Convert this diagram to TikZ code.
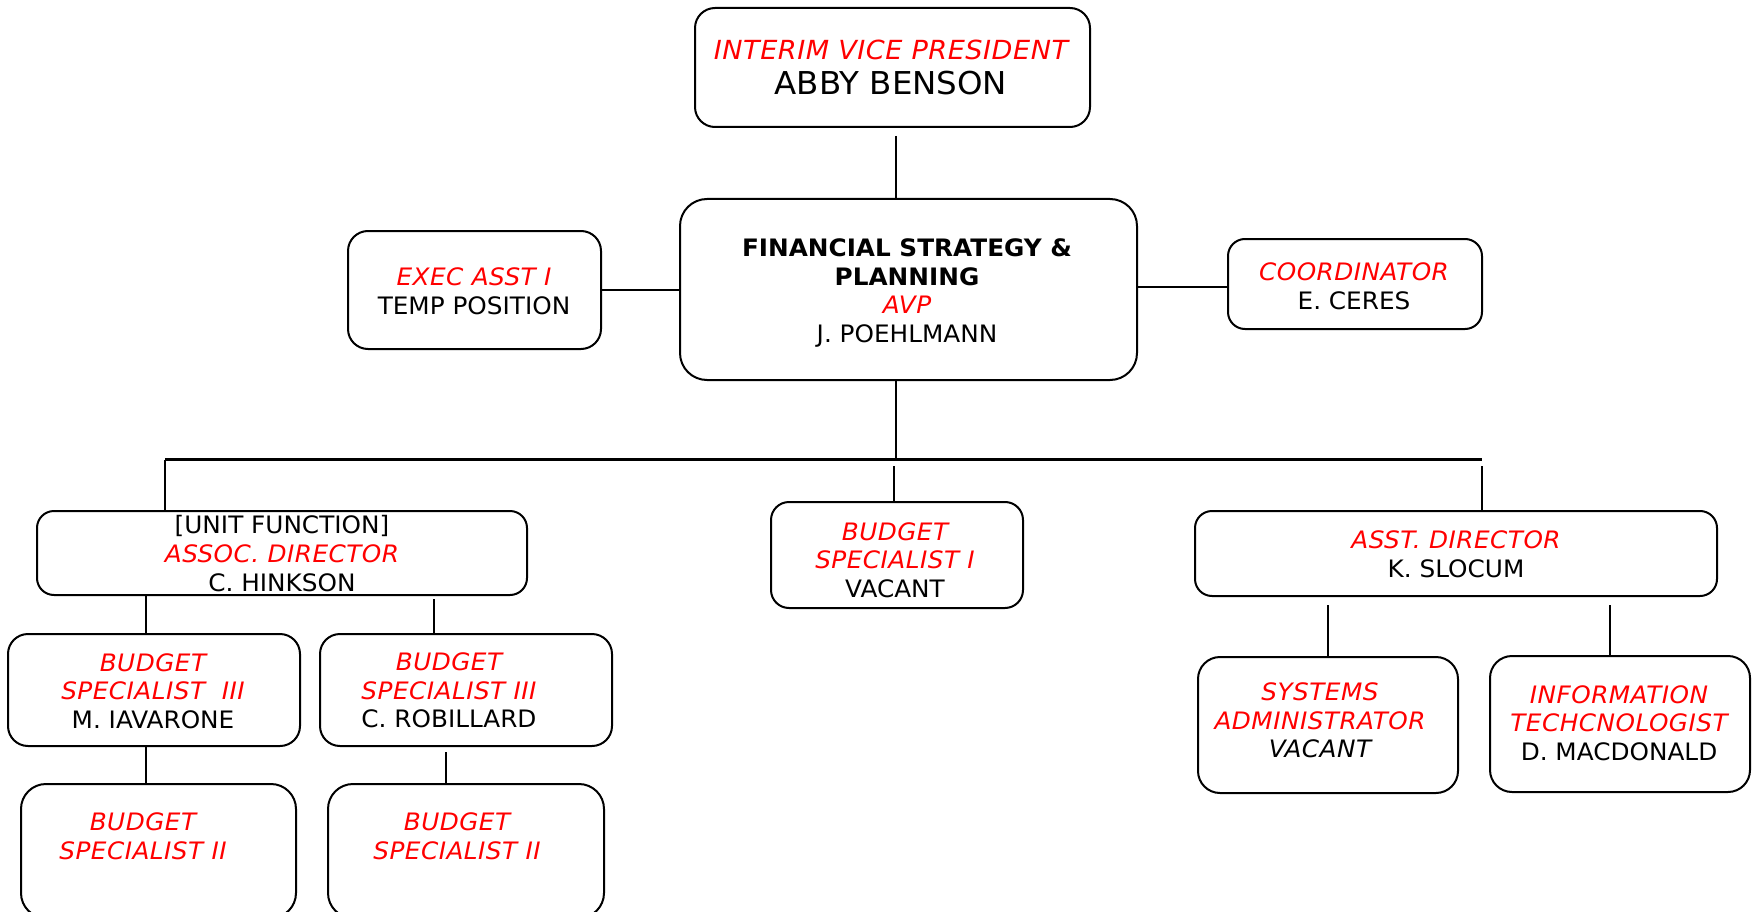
\documentclass[tikz,border=0pt]{standalone}
\usepackage{fontspec}
\setmainfont{DejaVu Sans}[FakeStretch=1.03,ItalicFeatures={LetterSpace=2.0}]
\usetikzlibrary{calc}
\definecolor{tred}{RGB}{255,0,0}
\newcommand{\rt}[1]{{\color{tred}\itshape #1}}
\begin{document}
\begin{tikzpicture}[x=1pt,y=-1pt,
  box/.style={draw=black,line width=2pt,rounded corners=#1,fill=white,inner sep=0pt},
  box/.default=18pt,
  lbl/.style={align=center,inner sep=0pt,font=\fontsize{24}{28.6}\selectfont},
  conn/.style={line width=2.5pt}]
\useasboundingbox (0,0) rectangle (1753,912);
\clip (0,0) rectangle (1753,912);
\fill[white] (0,0) rectangle (1753,912);

% boxes
\node[box=20pt,minimum width=395pt,minimum height=119pt] (top) at (892.5,67.5) {};
\node[box=27pt,minimum width=457pt,minimum height=181pt] (central) at (908.5,289.5) {};
\node[box=20pt,minimum width=253pt,minimum height=118pt] (exec) at (474.5,290) {};
\node[box=17pt,minimum width=254pt,minimum height=90pt] (coord) at (1355,284) {};
\node[box=17pt,minimum width=490pt,minimum height=84pt] (hink) at (282,553) {};
\node[box=18pt,minimum width=252pt,minimum height=106pt] (bs1) at (897,555) {};
\node[box=17pt,minimum width=522pt,minimum height=85pt] (slocum) at (1456,553.5) {};
\node[box=20pt,minimum width=292pt,minimum height=112pt] (iav) at (154,690) {};
\node[box=20pt,minimum width=292pt,minimum height=112pt] (rob) at (466,690) {};
\node[box=25pt,minimum width=275pt,minimum height=134pt] (bs2a) at (158.5,851) {};
\node[box=25pt,minimum width=276pt,minimum height=134pt] (bs2b) at (466,851) {};
\node[box=22pt,minimum width=260pt,minimum height=136pt] (sys) at (1328,725) {};
\node[box=22pt,minimum width=260pt,minimum height=136pt] (info) at (1620,724) {};

% texts
\node[lbl,font=\fontsize{26.3}{35}\selectfont] (topT) at (891,67.5)
  {\rt{INTERIM VICE PRESIDENT}\\{\fontsize{31.5}{35}\selectfont ABBY BENSON}};
\node[lbl] (centralT) at (907,293)
  {\textbf{FINANCIAL STRATEGY \&}\\\textbf{PLANNING}\\\rt{AVP}\\J. POEHLMANN};
\node[lbl] (execT) at (474,291) {\rt{EXEC ASST I}\\TEMP POSITION};
\node[lbl] (coordT) at (1354,286) {\rt{COORDINATOR}\\E. CERES};
\node[lbl] (hinkT) at (282,553.5) {[UNIT FUNCTION]\\\rt{ASSOC. DIRECTOR}\\C. HINKSON};
\node[lbl] (bs1T) at (895,560) {\rt{BUDGET}\\\rt{SPECIALIST I}\\VACANT};
\node[lbl] (slocumT) at (1456,554.5) {\rt{ASST. DIRECTOR}\\K. SLOCUM};
\node[lbl] (iavT) at (153,691) {\rt{BUDGET}\\\rt{SPECIALIST\ \ III}\\M. IAVARONE};
\node[lbl] (robT) at (449,690.5) {\rt{BUDGET}\\\rt{SPECIALIST III}\\C. ROBILLARD};
\node[lbl] (bs2aT) at (143,836) {\rt{BUDGET}\\\rt{SPECIALIST II}};
\node[lbl] (bs2bT) at (457,836) {\rt{BUDGET}\\\rt{SPECIALIST II}};
\node[lbl] (sysT) at (1320,720.5) {\rt{SYSTEMS}\\\rt{ADMINISTRATOR}\\{\itshape VACANT}};
\node[lbl] (infoT) at (1619,723) {\rt{INFORMATION}\\\rt{TECHCNOLOGIST}\\D. MACDONALD};

% connectors
\coordinate (c1) at (896,136);
\draw[conn] (c1) -- (c1 |- central.north);
\draw[conn] (exec.east) -- (exec.east -| central.west);
\coordinate (c2) at (1228,287);
\draw[conn] (c2 -| central.east) -- (c2 -| coord.west);
\coordinate (busC) at (896,459.5);
\coordinate (busL) at (165,459.5);
\coordinate (busR) at (1482,459.5);
\draw[conn] (busC |- central.south) -- (busC);
\draw[conn] (busL) -- (busR);
\draw[conn] (busL) -- (busL |- hink.north);
\coordinate (c3) at (894,466);
\draw[conn] (c3) -- (c3 |- bs1.north);
\coordinate (c4) at (1482,466);
\draw[conn] (c4) -- (c4 |- slocum.north);
\coordinate (c5) at (146,595);
\draw[conn] (c5 |- hink.south) -- (c5 |- iav.north);
\coordinate (c6) at (434,599);
\draw[conn] (c6) -- (c6 |- rob.north);
\coordinate (c7) at (146,746);
\draw[conn] (c7 |- iav.south) -- (c7 |- bs2a.north);
\coordinate (c8) at (446,752);
\draw[conn] (c8) -- (c8 |- bs2b.north);
\coordinate (c9) at (1328,605);
\draw[conn] (c9) -- (c9 |- sys.north);
\coordinate (c10) at (1610,605);
\draw[conn] (c10) -- (c10 |- info.north);
\end{tikzpicture}
\end{document}
